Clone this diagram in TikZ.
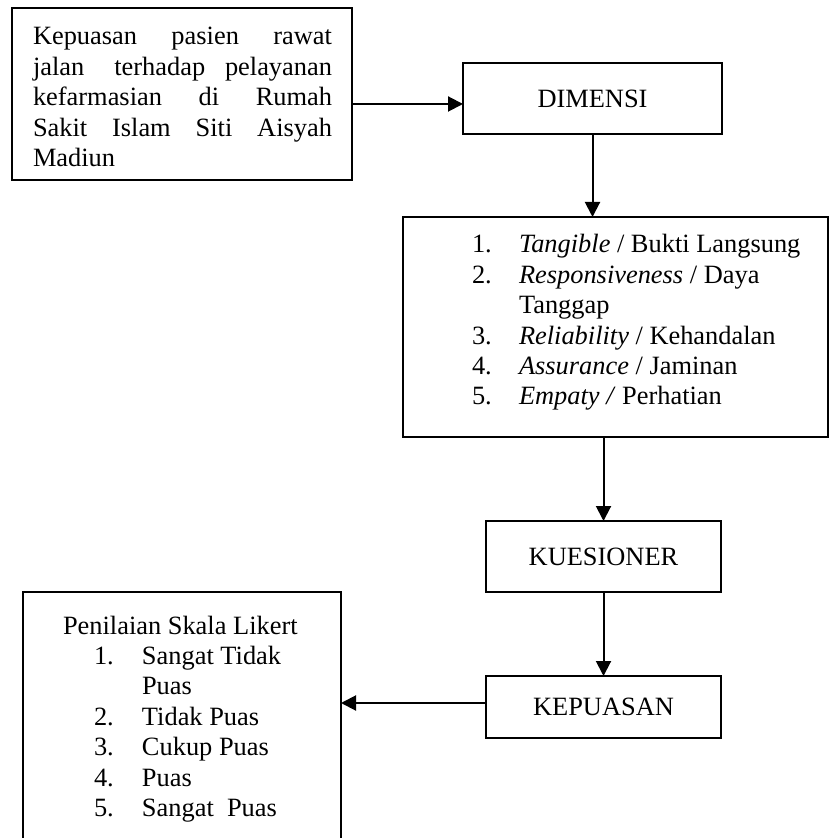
\documentclass[tikz,border=0pt]{standalone}
\usepackage{fontspec}
\setmainfont{Liberation Serif}
\usetikzlibrary{arrows.meta}
\newcommand{\itm}[2]{\hbox{\hbox to 23.5pt{#1\hfill}#2}}
\newcommand{\itmL}[2]{\hbox{\hbox to 24pt{#1\hfill}#2}}
\begin{document}
\begin{tikzpicture}[x=0.5pt,y=-0.5pt,
  font=\fontsize{13.2pt}{15.2pt}\selectfont,
  box/.style={draw, line width=1pt, rectangle, inner sep=0pt, outer sep=0pt, anchor=north west},
  txt/.style={inner sep=0pt, outer sep=0pt, anchor=base west},
  arr/.style={line width=1pt, -{Triangle[length=7.5pt,width=7.5pt]}}]
\useasboundingbox (0,0) rectangle (830,838);
\fill[white] (0,0) rectangle (830,838);
\clip (0,0) rectangle (830,838);

% boxes
\node[box, minimum width=170pt, minimum height=86pt] (b1) at (12,8) {};
\node[box, minimum width=129.5pt, minimum height=35.5pt] (dim) at (463,63) {};
\node[box, minimum width=212.5pt, minimum height=110pt] (list) at (403,217) {};
\node[box, minimum width=117.5pt, minimum height=35.5pt] (kues) at (486,521) {};
\node[box, minimum width=117.5pt, minimum height=31pt] (kep) at (486,676) {};
\node[box, minimum width=159pt, minimum height=130pt] (lik) at (23,592) {};

% texts
\node[txt] (t1) at (33,45) {\vtop{%
  \hbox to 149.5pt{Kepuasan\hfill pasien\hfill rawat}%
  \hbox to 149.5pt{jalan\hskip 15pt terhadap\hfill pelayanan}%
  \hbox to 149.5pt{kefarmasian\hfill di\hfill Rumah}%
  \hbox to 149.5pt{Sakit\hfill Islam\hfill Siti\hfill Aisyah}%
  \hbox to 149.5pt{Madiun\hfill}}};
\node[inner sep=0pt] (tdim) at (dim.center) {DIMENSI};
\node[inner sep=0pt] (tkues) at (kues.center) {KUESIONER};
\node[inner sep=0pt] (tkep) at (kep.center) {KEPUASAN};
\node[txt] (tl) at (472,253) {\vtop{%
  \itm{1.}{\textit{Tangible} / Bukti Langsung}%
  \itm{2.}{\textit{Responsiveness} / Daya}%
  \itm{}{Tanggap}%
  \itm{3.}{\textit{Reliability} / Kehandalan}%
  \itm{4.}{\textit{Assurance} / Jaminan}%
  \itm{5.}{\textit{Empaty /} Perhatian}}};
\node[txt] (tk) at (63,634) {\vtop{%
  \hbox{Penilaian Skala Likert}%
  \hbox{\hskip 15.5pt\vtop{%
    \itmL{1.}{Sangat Tidak}%
    \itmL{}{Puas}%
    \itmL{2.}{Tidak Puas}%
    \itmL{3.}{Cukup Puas}%
    \itmL{4.}{Puas}%
    \itmL{5.}{Sangat\ \ Puas}}}}};

% connectors
\draw[arr] ([yshift=-5pt]b1.east) -- ([yshift=-5pt]b1.east -| dim.west);
\draw[arr] (dim.south) -- (dim.south |- list.north);
\draw[arr] (kues.north |- list.south) -- (kues.north);
\draw[arr] (kues.south) -- (kep.north);
\draw[arr] ([yshift=2pt]kep.west) -- ([yshift=2pt]kep.west -| lik.east);
\end{tikzpicture}
\end{document}
